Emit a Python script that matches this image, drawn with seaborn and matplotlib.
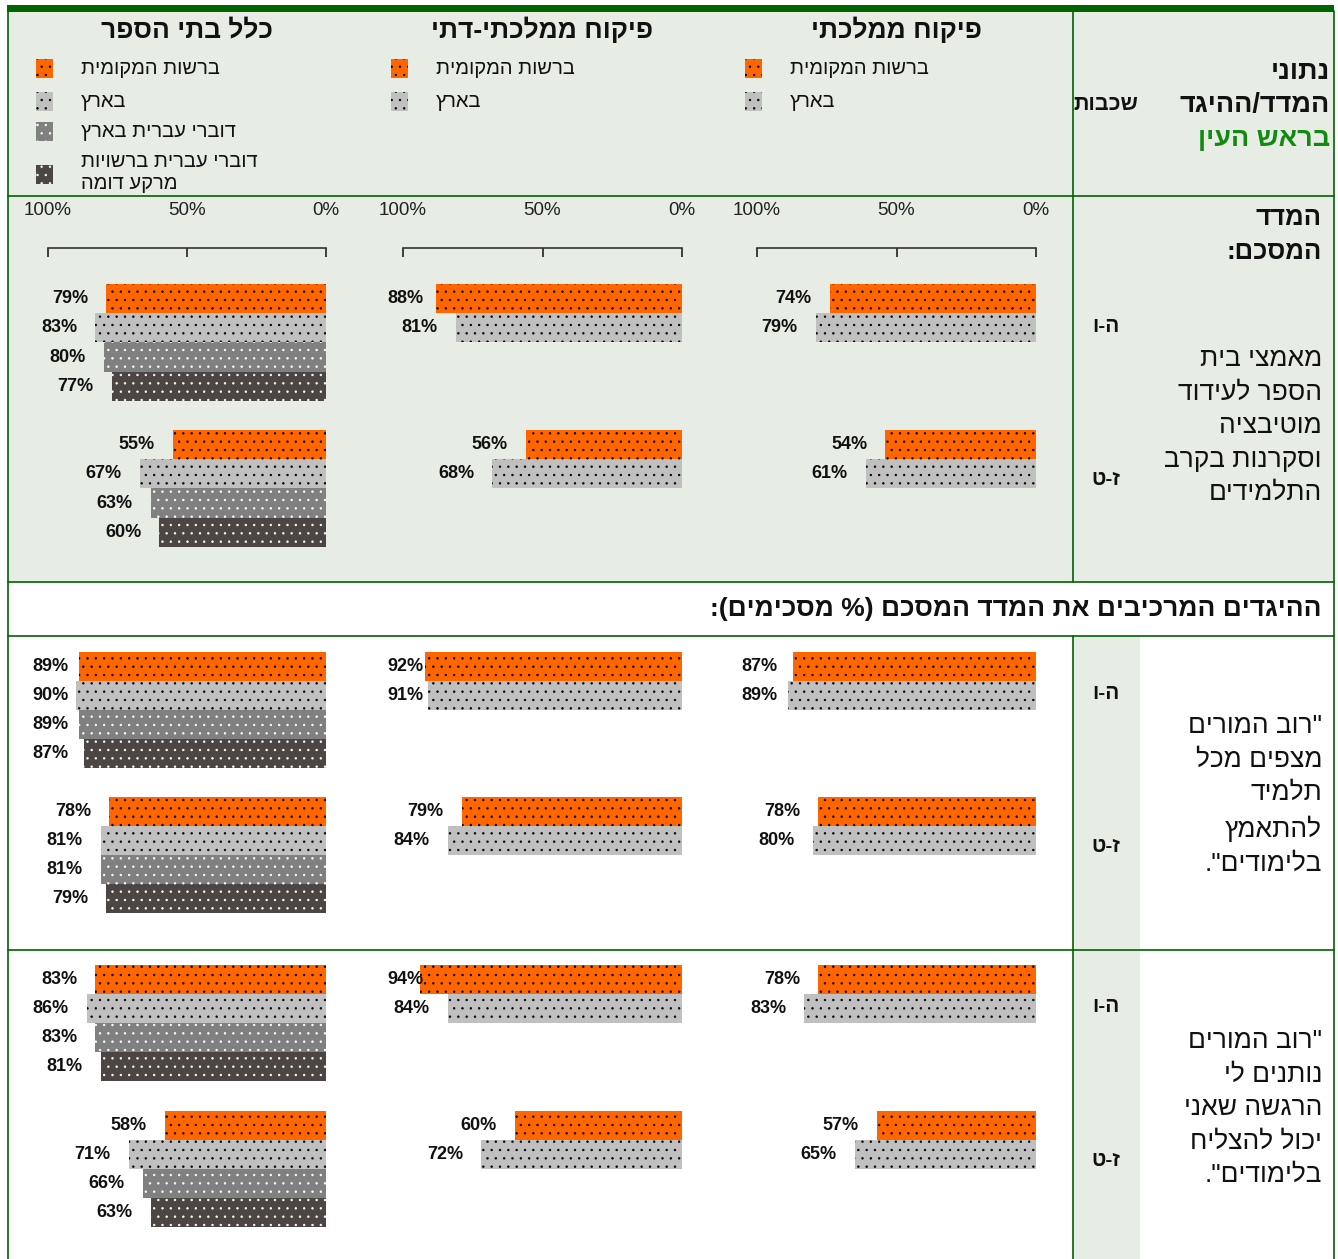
import numpy as np
import pandas as pd
import matplotlib
matplotlib.use("Agg")
import matplotlib.pyplot as plt
from matplotlib.patches import Rectangle
from matplotlib.colors import to_hex
import seaborn as sns

# ---------------- data ----------------
panel_titles = ["כלל בתי הספר", "פיקוח ממלכתי-דתי", "פיקוח ממלכתי"]
series_all = ["ברשות המקומית", "בארץ", "דוברי עברית בארץ", "דוברי עברית ברשויות\nמרקע דומה"]
series_sector = ["ברשות המקומית", "בארץ"]
grades = ["ה-ו", "ז-ט"]

header_lines = ["נתוני", "המדד/ההיגד", "בראש העין"]
grades_header = "שכבות"
summary_title = "המדד\nהמסכם:"
section_title = "ההיגדים המרכיבים את המדד המסכם (% מסכימים):"
row_labels = [
    "מאמצי בית\nהספר לעידוד\nמוטיבציה\nוסקרנות בקרב\nהתלמידים",
    "\"רוב המורים\nמצפים מכל\nתלמיד\nלהתאמץ\nבלימודים\".",
    "\"רוב המורים\nנותנים לי\nהרגשה שאני\nיכול להצליח\nבלימודים\".",
]

# values: [grade ה-ו values, grade ז-ט values]
summary_all = [[79, 83, 80, 77], [55, 67, 63, 60]]
summary_relig = [[88, 81], [56, 68]]
summary_state = [[74, 79], [54, 61]]

expect_all = [[89, 90, 89, 87], [78, 81, 81, 79]]
expect_relig = [[92, 91], [79, 84]]
expect_state = [[87, 89], [78, 80]]

succeed_all = [[83, 86, 83, 81], [58, 71, 66, 63]]
succeed_relig = [[94, 84], [60, 72]]
succeed_state = [[78, 83], [57, 65]]

tick_values = [100, 50, 0]
tick_labels = ["100%", "50%", "0%"]

# ---------------- style ----------------
series_colors = ["#FF6600", "#C0C0C0", "#808080", "#4B4643"]
dot_colors = ["#000000", "#000000", "#FFFFFF", "#FFFFFF"]
BG = "#E7ECE5"
GREEN = "#006400"
TITLE_GREEN = "#108A10"

sns.set_style("white")
plt.rcParams["font.family"] = ["Liberation Sans", "DejaVu Sans"]
plt.rcParams["hatch.linewidth"] = 0.5

MIRROR = str.maketrans("()", ")(")


def rtl(s):
    return "\n".join(line[::-1].translate(MIRROR) for line in s.split("\n"))


W, H = 1338, 1259
fig = plt.figure(figsize=(W / 100, H / 100), dpi=100)
fig.patch.set_facecolor("white")

# background "table" axes in pixel coordinates
bg = fig.add_axes([0, 0, 1, 1])
bg.set_xlim(0, W)
bg.set_ylim(H, 0)
bg.axis("off")

bg.add_patch(Rectangle((8, 11), 1334 - 8, 582 - 11, facecolor=BG, edgecolor="none"))
bg.add_patch(Rectangle((1073, 636), 1140 - 1073, H - 636, facecolor=BG, edgecolor="none"))
bg.add_patch(Rectangle((7, 5), 1334 - 7, 6.5, facecolor=GREEN, edgecolor="none"))
for yy in [196, 582, 636, 950]:
    bg.plot([8, 1334], [yy, yy], color=GREEN, lw=1.2)
bg.plot([8, 8], [11, H], color=GREEN, lw=1.2)
bg.plot([1334, 1334], [11, H], color=GREEN, lw=1.2)
bg.plot([1073, 1073], [11, 582], color=GREEN, lw=1.2)
bg.plot([1073, 1073], [636, H], color=GREEN, lw=1.2)

# header texts
hdr_y = [72, 105, 139]
for i, line in enumerate(header_lines):
    bg.text(1330, hdr_y[i], rtl(line), ha="right", va="center", fontsize=19.5,
            fontweight="bold", color=TITLE_GREEN if i == 2 else "#111111")
bg.text(1106, 104, rtl(grades_header), ha="center", va="center", fontsize=15.5,
        fontweight="bold", color="#111111")

bg.text(1322, 235, rtl(summary_title), ha="right", va="center", fontsize=18.5,
        fontweight="bold", linespacing=1.5, multialignment="right", color="#111111")
bg.text(1322, 609, rtl(section_title), ha="right", va="center", fontsize=19,
        fontweight="bold", color="#111111")

label_centers = [426, 795, 1108]
for lab, yc in zip(row_labels, label_centers):
    bg.text(1322, yc, rtl(lab), ha="right", va="center", fontsize=19,
            linespacing=1.5, multialignment="right", color="#111111")

grade_y = [(326, 479), (693, 846), (1006, 1160)]
for gy in grade_y:
    for g, yy in zip(grades, gy):
        bg.text(1106, yy, rtl(g), ha="center", va="center", fontsize=15,
                fontweight="bold", color="#111111")

# panel geometry (pixels)
panel_x = [(48, 326), (403, 682), (757, 1036)]
row_geom = [(248, 580, 284, 29.2), (636, 950, 652, 29.0), (950, H, 965, 29.1)]

# titles and legends
legend_y = [68, 101, 131, 172]
for c, (x0, x1) in enumerate(panel_x):
    bg.text((x0 + x1) / 2, 30, rtl(panel_titles[c]), ha="center", va="center",
            fontsize=19, fontweight="bold", color="#111111")
    names = series_all if c == 0 else series_sector
    for s, name in enumerate(names):
        yy = legend_y[s]
        sq_y = yy + (2 if s == 3 else 0)
        bg.add_patch(Rectangle((x0 - 12, sq_y - 9.5), 17, 19, facecolor=series_colors[s],
                               edgecolor=dot_colors[s], linewidth=0, hatch=".."))
        bg.text(x0 + 33, yy, rtl(name), ha="left", va="center", fontsize=14.5,
                multialignment="left", linespacing=1.2, color="#111111")

rows = [
    [summary_all, summary_relig, summary_state],
    [expect_all, expect_relig, expect_state],
    [succeed_all, succeed_relig, succeed_state],
]

hex_to_dot = {to_hex(c): d for c, d in zip(series_colors, dot_colors)}
GROUP_STRIDE = 5

for r, row in enumerate(rows):
    top_px, bot_px, bar_top_px, ppu = row_geom[r]
    ylim_top = -0.5 - (bar_top_px - top_px) / ppu
    ylim_bot = ylim_top + (bot_px - top_px) / ppu
    for c, panel in enumerate(row):
        x0, x1 = panel_x[c]
        ax = fig.add_axes([x0 / W, 1 - bot_px / H, (x1 - x0) / W, (bot_px - top_px) / H])
        ax.set_facecolor("none")
        names = series_all if c == 0 else series_sector
        recs = []
        for g, vals in enumerate(panel):
            for s, v in enumerate(vals):
                recs.append({"pos": g * GROUP_STRIDE + s, "value": v, "series": names[s]})
        df = pd.DataFrame(recs)
        pal = {names[s]: series_colors[s] for s in range(len(names))}
        sns.barplot(data=df, x="value", y="pos", hue="series", palette=pal, orient="h",
                    native_scale=True, dodge=False, width=1, errorbar=None, legend=False,
                    saturation=1, linewidth=0, ax=ax)
        for p in ax.patches:
            dc = hex_to_dot.get(to_hex(p.get_facecolor()), "#000000")
            p.set_edgecolor(dc)
            p.set_linewidth(0)
            p.set_hatch("..")
        for _, rec in df.iterrows():
            ax.text(min(rec["value"] + 6.5, 92.5), rec["pos"], f"{int(rec['value'])}%",
                    ha="right", va="center", fontsize=13, fontweight="bold", color="#111111")
        ax.set_xlim(100, 0)
        ax.set_ylim(ylim_bot, ylim_top)
        ax.set_xlabel("")
        ax.set_ylabel("")
        ax.set_yticks([])
        for side in ["left", "right", "bottom"]:
            ax.spines[side].set_visible(False)
        if r == 0:
            ax.xaxis.tick_top()
            ax.set_xticks(tick_values)
            ax.set_xticklabels(tick_labels)
            ax.tick_params(axis="x", direction="in", length=6.5, width=1.2, pad=21,
                           labelsize=13.5, colors="#222222")
            ax.spines["top"].set_linewidth(1.2)
            ax.spines["top"].set_color("#333333")
        else:
            ax.spines["top"].set_visible(False)
            ax.set_xticks([])

fig.savefig("out.png", dpi=100, facecolor="white")
